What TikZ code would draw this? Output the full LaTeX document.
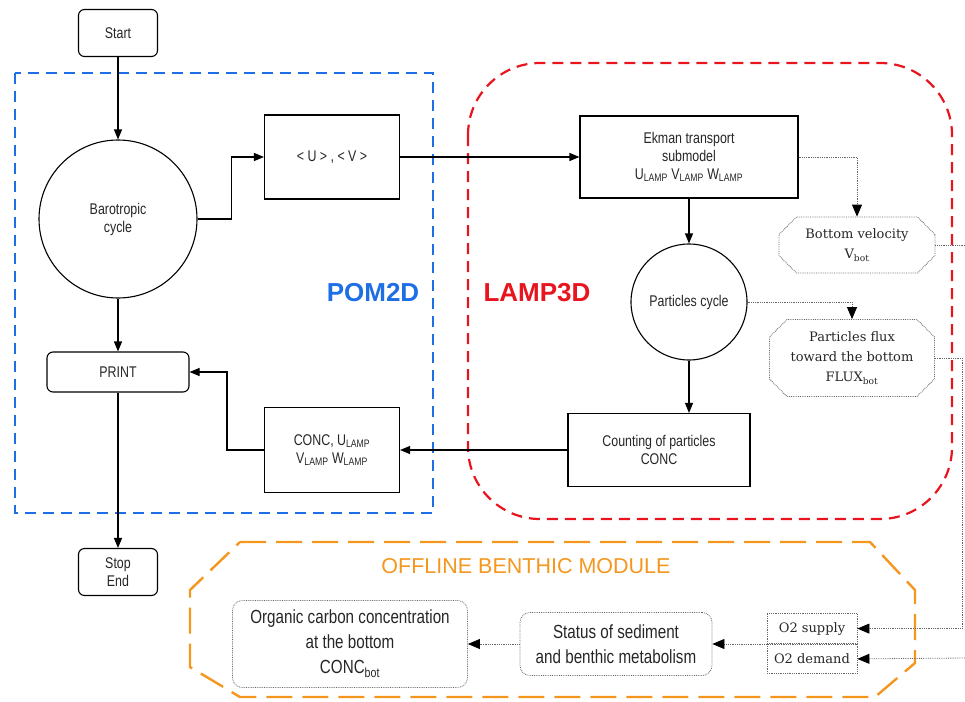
\documentclass[tikz,border=0pt]{standalone}
\usepackage{fontspec}
\setmainfont{Liberation Sans}
\newfontfamily\narrowsans[FakeStretch=0.8]{Liberation Sans}
\newfontfamily\slabserif{DejaVu Serif}
\usetikzlibrary{arrows.meta,shapes.misc}
\definecolor{pomblue}{RGB}{30,110,230}
\definecolor{lampred}{RGB}{232,20,30}
\definecolor{benthorange}{RGB}{245,150,30}
\begin{document}
\begin{tikzpicture}[x=1pt,y=-1pt,line width=1.1pt,
    >={Triangle[length=10pt,width=8pt,color=black]}]
    % Sumbu y dibalik (y=-1pt): koordinat mengikuti piksel gambar asli.
    \tikzset{
      teks/.style={align=center,text=black!85,
        font=\narrowsans\fontsize{15.5}{18}\selectfont},
      ujung/.style={teks,draw,rounded corners=6},
      proses/.style={teks,draw},
      siklus/.style={teks,draw,circle,inner sep=0pt},
      hasil/.style={align=center,text=black!85,draw=black!60,
        line width=0.8pt,densely dotted,chamfered rectangle,
        chamfered rectangle xsep=14pt,inner sep=0pt,
        font=\slabserif\fontsize{13}{20}\selectfont},
      bentik/.style={align=center,text=black!85,draw=black!60,
        line width=0.8pt,densely dotted,rounded corners=10,
        font=\narrowsans\fontsize{19}{25}\selectfont},
      oksigen/.style={align=center,text=black!85,draw=black!60,
        line width=0.8pt,densely dotted,inner sep=0pt,
        font=\slabserif\fontsize{13}{15}\selectfont},
      titik/.style={draw=black!60,line width=0.8pt,densely dotted},
      titikpanah/.style={titik,-{Triangle[length=12pt,width=10pt,color=black]}},
      grup/.style={line width=2.2pt,dash pattern=on 11pt off 7pt}}
    \useasboundingbox (0,0) rectangle (965,701);
    % Batas modul POM2D, LAMP3D dan modul bentik
    \draw[grup,pomblue] (15,73) rectangle (433,513);
    \draw[grup,lampred,rounded corners=72] (468,63) rectangle (952,519);
    \draw[grup,benthorange,line width=2.4pt,dash pattern=on 26pt off 10pt]
      (240,542) -- (870,542) -- (915,590) -- (915,663) -- (875,697)
      -- (240,697) -- (190,667) -- (190,590) -- cycle;
    \node[text=pomblue,font=\bfseries\fontsize{26}{28}\selectfont] (pom) at (373,293) {POM2D};
    \node[text=lampred,font=\bfseries\fontsize{26}{28}\selectfont] (lamp) at (537,293) {LAMP3D};
    \node[text=benthorange,font=\fontsize{21.5}{24}\selectfont] (offline) at (526,566) {OFFLINE BENTHIC MODULE};
    % Alur utama POM2D
    \node[ujung,minimum width=79,minimum height=47] (start) at (118,33) {Start};
    \node[siklus,minimum size=158] (baro) at (118,219) {Barotropic\\cycle};
    \node[ujung,minimum width=142,minimum height=40] (print) at (118,372) {PRINT};
    \node[ujung,minimum width=79,minimum height=47] (stop) at (118,572) {Stop\\End};
    \node[proses,minimum width=135,minimum height=84] (mean) at (332,157) {< U > , < V >};
    \node[proses,minimum width=135,minimum height=85] (concout) at (332,450)
      {CONC, U\textsubscript{LAMP}\\V\textsubscript{LAMP} W\textsubscript{LAMP}};
    % Alur LAMP3D
    \node[proses,minimum width=218,minimum height=82] (ekman) at (689,157)
      {Ekman transport\\submodel\\U\textsubscript{LAMP} V\textsubscript{LAMP} W\textsubscript{LAMP}};
    \node[siklus,minimum size=116] (partcyc) at (689,302) {Particles cycle};
    \node[proses,minimum width=182,minimum height=73] (count) at (659,450) {Counting of particles\\CONC};
    \node[hasil,minimum width=156,minimum height=56] (vbot) at (857,245) {Bottom velocity\\V\textsubscript{bot}};
    \node[hasil,minimum width=165,minimum height=77] (flux) at (852,358)
      {Particles flux\\toward the bottom\\FLUX\textsubscript{bot}};
    % Modul bentik
    \node[bentik,minimum width=235,minimum height=87] (orgc) at (350,644)
      {Organic carbon concentration\\at the bottom\\CONC\textsubscript{bot}};
    \node[bentik,minimum width=192,minimum height=63] (status) at (616,644)
      {Status of sediment\\and benthic metabolism};
    \node[oksigen,minimum width=90,minimum height=30,anchor=south] (supply) at (812,644) {O2 supply};
    \node[oksigen,minimum width=90,minimum height=29,anchor=north] (demand) at (812,644) {O2 demand};
    \coordinate (vbotend) at (965,245);
    \coordinate (demandend) at (965,658);
    % Panah
    \draw[->] (start) -- (baro);
    \draw[->] (baro.east) -- ++(34,0) |- (mean.west);
    \draw[->] (mean.east) -- (ekman.west);
    \draw[->] (ekman) -- (partcyc);
    \draw[->] (partcyc.south) -- (partcyc.south |- count.north);
    \draw[->] (count.west) -- (concout.east);
    \draw[->] (concout.west) -- ++(-37,0) |- (print.east);
    \draw[->] (baro) -- (print);
    \draw[->] (print) -- (stop);
    \draw[titikpanah] (ekman.east) -| (vbot.north);
    \draw[titikpanah] (partcyc.east) -| (flux.north);
    \draw[titik] (vbot.east) -- (vbotend);
    \draw[titikpanah] (flux.east) -- ++(27,0) |- (supply.east);
    \draw[titikpanah] (demandend) -- (demand.east);
    \draw[titikpanah] (supply.south west) -- (status.east);
    \draw[titikpanah] (status.west) -- (orgc.east);
  \end{tikzpicture}
\end{document}
